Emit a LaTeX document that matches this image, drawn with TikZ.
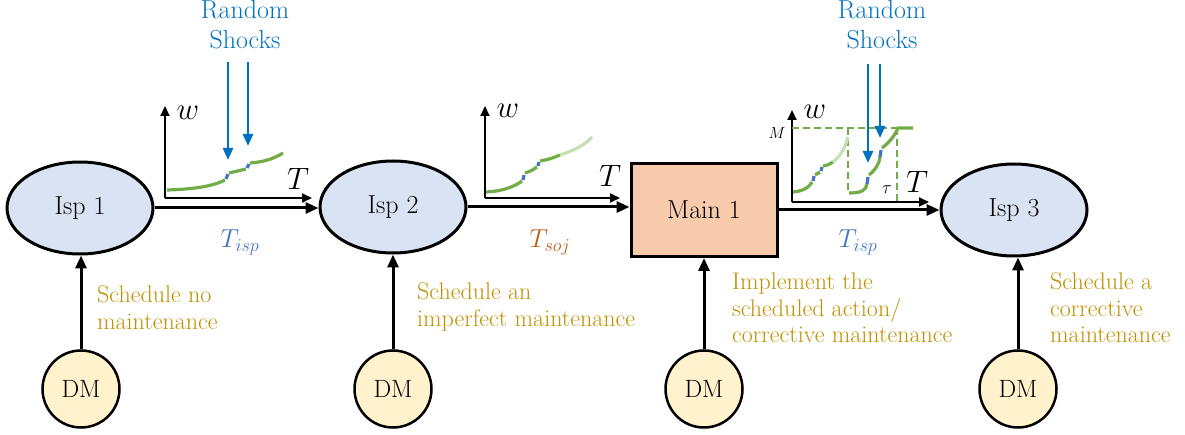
\RequirePackage{fix-cm}
\documentclass[tikz,border=0pt]{standalone}
\usepackage{amsmath}
\usepackage{xcolor}
\usetikzlibrary{arrows.meta,shapes.geometric}
\definecolor{ispblue}{HTML}{DAE3F3}
\definecolor{mainpink}{HTML}{F8CBAD}
\definecolor{dmyellow}{HTML}{FFF2CC}
\definecolor{notegold}{HTML}{BF9000}
\definecolor{shockblue}{HTML}{0070C0}
\definecolor{tblue}{HTML}{4472C4}
\definecolor{torange}{HTML}{C55A11}
\definecolor{wgreen}{HTML}{70AD47}
\definecolor{wlight}{HTML}{C5E0B4}

\begin{document}
\begin{tikzpicture}[x=1pt,y=-1pt,>={Triangle[length=13pt,width=11pt]},
isp/.style={ellipse,draw,line width=3pt,fill=ispblue,minimum width=146,minimum height=92,font=\fontsize{26}{30}\selectfont},
mainbox/.style={rectangle,draw,line width=3pt,fill=mainpink,minimum width=146,minimum height=93,font=\fontsize{26}{30}\selectfont},
dm/.style={circle,draw,line width=2.5pt,fill=dmyellow,minimum size=77,inner sep=0pt,font=\fontsize{25}{28}\selectfont},
conn/.style={->,line width=3pt},
axis/.style={-{Triangle[length=10pt,width=9pt]},line width=2pt},
note/.style={text=notegold,align=left,anchor=north west,inner sep=0pt,font=\fontsize{24}{26.5}\selectfont},
shocktext/.style={text=shockblue,align=center,inner sep=0pt,font=\fontsize{26}{30}\selectfont},
shock/.style={-{Triangle[length=12pt,width=10pt]},shockblue,line width=2.5pt},
tlabel/.style={font=\fontsize{26}{30}\selectfont},
axlabel/.style={inner sep=0pt,font=\fontsize{31}{34}\selectfont},
wear/.style={wgreen,line width=3.2pt},
wearold/.style={wlight,line width=3.2pt},
jump/.style={tblue,line width=3.2pt},
limit/.style={wgreen,dash pattern=on 7pt off 4pt,line width=1.8pt}]
\useasboundingbox (0,0) rectangle (1185,435);
% states
\node[isp] (isp1) at (80,208) {Isp 1};
\node[isp] (isp2) at (393,207) {Isp 2};
\node[mainbox] (main1) at (704,210) {Main 1};
\node[isp] (isp3) at (1014,210) {Isp 3};
\node[dm] (dm1) at (81,389) {DM};
\node[dm] (dm2) at (393,389) {DM};
\node[dm] (dm3) at (704,389) {DM};
\node[dm] (dm4) at (1018,389) {DM};
% transitions
\draw[conn] (isp1.east) -- (isp1.east -| isp2.west);
\draw[conn] (isp2.east) -- (isp2.east -| main1.west);
\draw[conn] (main1.east) -- (main1.east -| isp3.west);
\foreach \d/\s in {dm1/isp1,dm2/isp2,dm3/main1,dm4/isp3}
  \draw[conn] (\d.north) -- (\d.north |- \s.south);
\node[tlabel,text=tblue] (t1) at (240,242) {$T_{isp}$};
\node[tlabel,text=torange] (t2) at (550,242) {$T_{soj}$};
\node[tlabel,text=tblue] (t3) at (858,242) {$T_{isp}$};
\node[note] (n1) at (97,286) {Schedule no\\maintenance};
\node[note] (n2) at (417,283) {Schedule an\\imperfect maintenance};
\node[note] (n3) at (732,273) {Implement the\\scheduled action/\\corrective maintenance};
\node[note] (n4) at (1050,273) {Schedule a\\corrective\\maintenance};
% degradation plot 1
\draw[axis] (165,198) -- (165,106);
\draw[axis] (165,198) -- (312,198);
\node[axlabel] at (188,113) {$w$};
\node[axlabel] at (298,179) {$T$};
\draw[wear] (167,190) .. controls (200,189) and (215,185) .. (225,180);
\draw[jump] (226,179) -- (228,174);
\draw[wear] (229,173) .. controls (237,171) .. (246,169);
\draw[jump] (247,168) -- (249,164);
\draw[wear] (250,163) .. controls (265,162) and (275,158) .. (283,153);
\draw[shock] (228,62) -- (228,160);
\draw[shock] (248,62) -- (248,146);
\node[shocktext] (rs1) at (245,25) {Random\\Shocks};
% degradation plot 2
\draw[axis] (485,198) -- (485,106);
\draw[axis] (485,198) -- (620,198);
\node[axlabel] at (508,111) {$w$};
\node[axlabel] at (610,176) {$T$};
\draw[wear] (486,192) .. controls (505,191) and (515,186) .. (522,181);
\draw[jump] (523,180) -- (524,175);
\draw[wear] (525,173) .. controls (531,171) .. (537,167);
\draw[jump] (538,166) -- (539,162);
\draw[wear] (540,161) .. controls (550,159) .. (560,155);
\draw[wearold] (560,155) .. controls (575,150) and (585,145) .. (592,137);
% degradation plot 3
\draw[axis] (792,202) -- (792,110);
\draw[axis] (792,202) -- (929,202);
\node[axlabel] at (815,112) {$w$};
\node[axlabel] at (917,182) {$T$};
\node[inner sep=0pt,font=\fontsize{16}{18}\selectfont] at (777,133) {$M$};
\node[inner sep=0pt,font=\fontsize{18}{20}\selectfont] at (887,190) {$\tau$};
\draw[limit] (792,128) -- (898,128);
\draw[limit] (848,128) -- (848,193);
\draw[limit] (897,128) -- (897,202);
\draw[wear] (793,192) .. controls (805,191) and (810,186) .. (812,182);
\draw[jump] (813,181) -- (814,176);
\draw[wear] (815,175) .. controls (818,173) .. (820,172);
\draw[jump] (821,171) -- (822,167);
\draw[wear] (823,166) .. controls (828,165) .. (833,162);
\draw[wearold] (833,162) .. controls (842,155) and (846,145) .. (848,137);
\draw[wear] (849,193) .. controls (862,193) and (866,190) .. (867,184);
\draw[jump] (867,184) -- (868,177);
\draw[wear] (869,175) .. controls (875,170) and (879,165) .. (880,157);
\draw[jump] (880,157) -- (881,150);
\draw[wear] (882,148) .. controls (890,142) and (895,135) .. (898,128) -- (913,128);
\draw[shock] (868,64) -- (868,163);
\draw[shock] (880,64) -- (880,138);
\node[shocktext] (rs2) at (882,25) {Random\\Shocks};
\end{tikzpicture}
\end{document}
